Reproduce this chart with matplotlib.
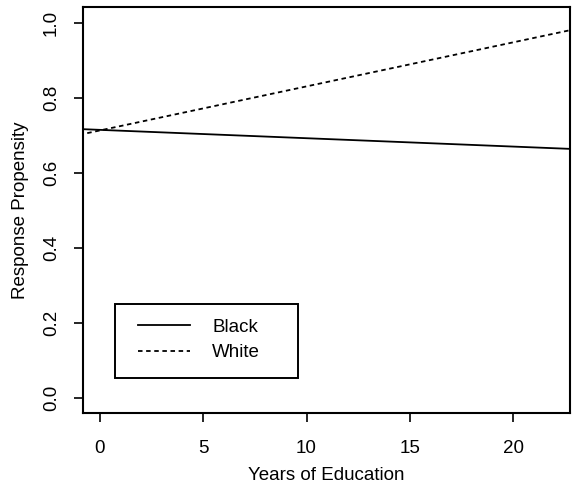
import matplotlib
matplotlib.use("Agg")
import matplotlib.pyplot as plt
from matplotlib.patches import Rectangle

plt.rcParams['font.family'] = ['Liberation Sans', 'DejaVu Sans']

# values at the two ends of the x range
years = [-1, 23]
black = [0.7175, 0.664]
white = [0.702, 0.984]

xticks = [0, 5, 10, 15, 20]
yticks = [0.0, 0.2, 0.4, 0.6, 0.8, 1.0]

fs = 13.5

fig = plt.figure(figsize=(5.73, 4.9), dpi=100)
ax = fig.add_axes([83/573, 1 - 413/490, 487/573, 406/490])

ax.plot(years, black, color='black', lw=1.3, ls='-', label='Black')
ax.plot(years, white, color='black', lw=1.3, ls=(0, (2.5, 2)), label='White')

ax.set_xlim(-0.82, 22.75)
ax.set_ylim(-0.04, 1.043)
ax.set_xticks(xticks)
ax.set_xticklabels([str(t) for t in xticks])
ax.set_yticks(yticks)
ax.set_yticklabels(['%.1f' % t for t in yticks], rotation=90, va='center')

ax.tick_params(axis='both', direction='out', length=6.5, width=1.2,
               labelsize=fs, color='black')
ax.tick_params(axis='x', pad=13)
ax.tick_params(axis='y', pad=10)
for s in ax.spines.values():
    s.set_linewidth(1.5)

ax.set_xlabel('Years of Education', fontsize=fs, labelpad=7)
ax.set_ylabel('Response Propensity', fontsize=fs, labelpad=10)

# legend box drawn separately so the padding can match the original
ax.add_patch(Rectangle((0.0657, 0.0862), 0.3758, 0.1823, transform=ax.transAxes,
                       fill=False, edgecolor='black', lw=1.4, zorder=3))
leg = ax.legend(loc='upper left', bbox_to_anchor=(0.1129, 0.2327),
                fontsize=fs, frameon=False, handlelength=2.75, handletextpad=1.2,
                borderpad=0, labelspacing=0.45, borderaxespad=0)

fig.savefig('out.png', dpi=100)
